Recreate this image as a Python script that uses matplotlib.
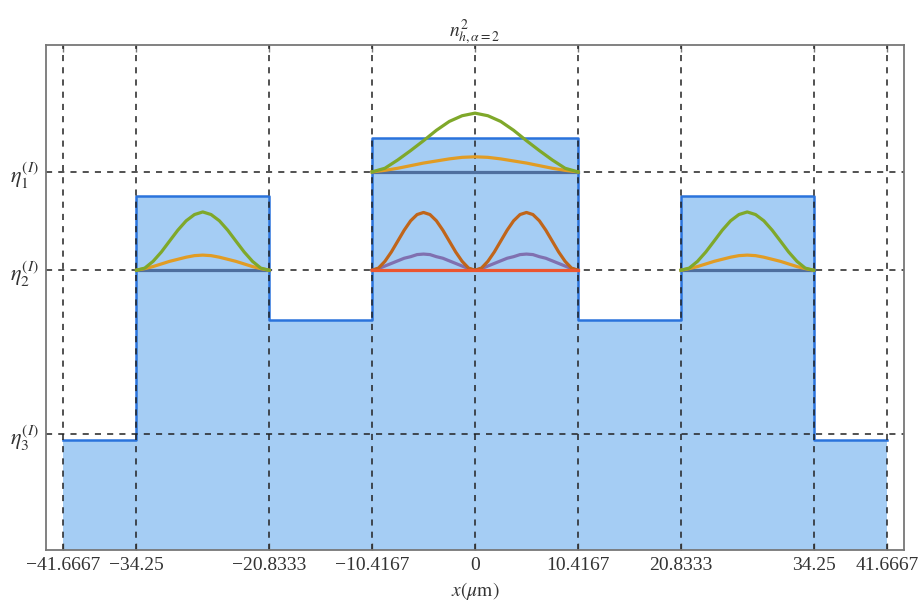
import matplotlib
matplotlib.use("Agg")
import matplotlib.pyplot as plt
import numpy as np

plt.rcParams["font.family"] = ["Liberation Serif", "DejaVu Serif"]
plt.rcParams["mathtext.fontset"] = "stix"

# Refractive index profile (arbitrary units)
edges = [-41.6667, -34.25, -20.8333, -10.4167, 10.4167, 20.8333, 34.25, 41.6667]
levels = [0.211, 0.681, 0.442, 0.792, 0.442, 0.681, 0.211]

# Effective index levels
eta_vals = [0.727, 0.538, 0.223]
eta_labels = [r"$\eta_1^{(I)}$", r"$\eta_2^{(I)}$", r"$\eta_3^{(I)}$"]

xticks = [-41.6667, -34.25, -20.8333, -10.4167, 0, 10.4167, 20.8333, 34.25, 41.6667]
xtick_labels = ["\u221241.6667", "\u221234.25", "\u221220.8333", "\u221210.4167", "0",
                "10.4167", "20.8333", "34.25", "41.6667"]

# Centre guide, modes on eta1
xc = [-10.4167, -9.115, -7.813, -6.510, -5.208, -3.906, -2.604, -1.302, 0.0,
      1.302, 2.604, 3.906, 5.208, 6.510, 7.813, 9.115, 10.4167]
center_green = [0.727, 0.734, 0.750, 0.768, 0.787, 0.807, 0.824, 0.835, 0.840,
                0.835, 0.824, 0.807, 0.787, 0.768, 0.750, 0.734, 0.727]
center_orange = [0.727, 0.730, 0.734, 0.739, 0.744, 0.748, 0.752, 0.755, 0.756,
                 0.755, 0.752, 0.748, 0.744, 0.739, 0.734, 0.730, 0.727]

# Centre guide, modes on eta2 (double hump)
xd = [-10.4167, -9.766, -9.115, -8.464, -7.813, -7.161, -6.510, -5.859, -5.208,
      -4.557, -3.906, -3.255, -2.604, -1.953, -1.302, -0.651, 0.0,
      0.651, 1.302, 1.953, 2.604, 3.255, 3.906, 4.557, 5.208,
      5.859, 6.510, 7.161, 7.813, 8.464, 9.115, 9.766, 10.4167]
center_brown = [0.538, 0.542, 0.555, 0.573, 0.594, 0.615, 0.633, 0.645, 0.649,
                0.645, 0.633, 0.615, 0.594, 0.573, 0.555, 0.542, 0.538,
                0.542, 0.555, 0.573, 0.594, 0.615, 0.633, 0.645, 0.649,
                0.645, 0.633, 0.615, 0.594, 0.573, 0.555, 0.542, 0.538]
center_purple = [0.538, 0.541, 0.546, 0.551, 0.556, 0.561, 0.564, 0.568, 0.569,
                 0.568, 0.564, 0.561, 0.556, 0.551, 0.546, 0.541, 0.538,
                 0.541, 0.546, 0.551, 0.556, 0.561, 0.564, 0.568, 0.569,
                 0.568, 0.564, 0.561, 0.556, 0.551, 0.546, 0.541, 0.538]

# Side guides, modes on eta2
xs_left = [-34.25, -33.41, -32.57, -31.73, -30.90, -30.06, -29.22, -28.38, -27.54,
           -26.70, -25.86, -25.02, -24.19, -23.35, -22.51, -21.67, -20.8333]
xs_right = [20.8333, 21.67, 22.51, 23.35, 24.19, 25.02, 25.86, 26.70, 27.54,
            28.38, 29.22, 30.06, 30.90, 31.73, 32.57, 33.41, 34.25]
side_green = [0.538, 0.542, 0.555, 0.573, 0.594, 0.615, 0.633, 0.645, 0.650,
              0.645, 0.633, 0.615, 0.594, 0.573, 0.555, 0.542, 0.538]
side_orange = [0.538, 0.541, 0.545, 0.550, 0.555, 0.559, 0.563, 0.566, 0.567,
               0.566, 0.563, 0.559, 0.555, 0.550, 0.545, 0.541, 0.538]

# Colours
fill_c = "#a5cdf4"
edge_c = "#2a73dc"
blue = "#4f6f9e"
orange = "#e19c24"
green = "#7fa82a"
brown = "#c0651a"
purple = "#8070b0"
red = "#eb5530"

fig = plt.figure(figsize=(9.24, 6.16), dpi=100)
ax = fig.add_axes([46 / 924, 66 / 616, 858 / 924, 505 / 616])

# Profile
ax.fill_between(edges, levels + [levels[-1]], 0, step="post", color=fill_c, lw=0, zorder=1)
ax.step(edges, levels + [levels[-1]], where="post", color=edge_c, lw=1.8, zorder=2)

# Dashed guide lines
for xv in xticks:
    ax.axvline(xv, color="#222222", lw=1.1, ls=(0, (4, 4)), zorder=2.5)
for yv in eta_vals:
    ax.axhline(yv, color="#222222", lw=1.1, ls=(0, (4, 4)), zorder=2.5)

lw = 2.3
# Centre guide, eta1
ax.plot([xc[0], xc[-1]], [eta_vals[0], eta_vals[0]], color=blue, lw=lw, zorder=3)
ax.plot(xc, center_orange, color=orange, lw=lw, zorder=3, solid_joinstyle="round")
ax.plot(xc, center_green, color=green, lw=lw, zorder=3, solid_joinstyle="round")

# Centre guide, eta2
ax.plot(xd, center_purple, color=purple, lw=lw, zorder=3, solid_joinstyle="round")
ax.plot(xd, center_brown, color=brown, lw=lw, zorder=3, solid_joinstyle="round")
ax.plot([xd[0], xd[-1]], [eta_vals[1], eta_vals[1]], color=red, lw=lw, zorder=3.2)

# Side guides
for xs in (xs_left, xs_right):
    ax.plot([xs[0], xs[-1]], [eta_vals[1], eta_vals[1]], color=blue, lw=lw, zorder=3)
    ax.plot(xs, side_orange, color=orange, lw=lw, zorder=3, solid_joinstyle="round")
    ax.plot(xs, side_green, color=green, lw=lw, zorder=3, solid_joinstyle="round")

ax.set_xlim(-43.4, 43.4)
ax.set_ylim(0, 0.971)

ax.set_xticks(xticks)
ax.set_xticklabels(xtick_labels, fontsize=14, color="#333333")
ax.set_yticks(eta_vals)
ax.set_yticklabels(eta_labels, fontsize=16, color="#333333")
ax.tick_params(axis="x", direction="in", length=5, width=1, color="#777777",
               top=True, pad=5)
ax.tick_params(axis="y", length=0, pad=5)

for sp in ax.spines.values():
    sp.set_color("#777777")
    sp.set_linewidth(1.3)

ax.set_title(r"$n^{2}_{h,\alpha=2}$", fontsize=14, pad=6, color="#333333")
ax.set_xlabel(r"$x(\mu\mathrm{m})$", fontsize=14, labelpad=4, color="#333333")

fig.savefig("out.png", dpi=100)
